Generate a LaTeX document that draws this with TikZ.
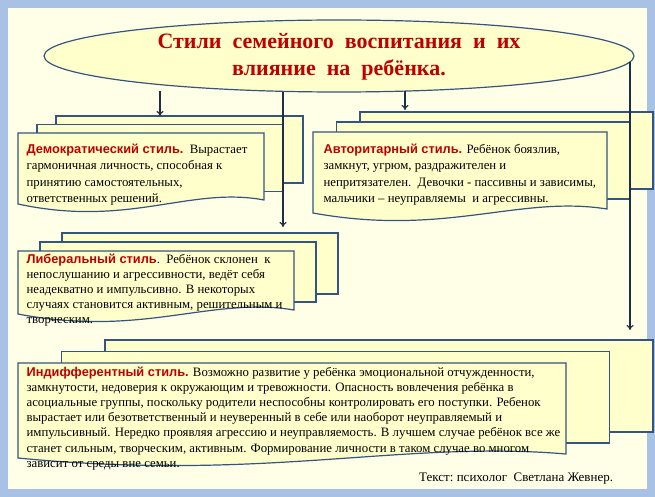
\documentclass[tikz,border=0pt]{standalone}
\usepackage{fontspec}
\setmainfont{Liberation Serif}
\newfontfamily\headfont{Liberation Sans}
\usetikzlibrary{arrows.meta,shapes.geometric}
\definecolor{frameblue}{HTML}{A8C2E6}
\definecolor{paper}{HTML}{FFFFE8}
\definecolor{boxfill}{HTML}{FFFFCC}
\definecolor{boxline}{HTML}{34557F}
\definecolor{arrowc}{HTML}{1F2D4A}
\definecolor{redhead}{HTML}{C00000}
\tikzset{every path/.style={line width=1.2pt},
  sheet/.style={draw=boxline,fill=boxfill},
  link/.style={draw=arrowc,-{To[length=5pt,width=7pt]}},
  body/.style={anchor=north west,align=left,inner sep=0pt,font=\fontsize{12.8}{15.2}\selectfont},
  widebody/.style={body,font=\fontsize{12.8}{16.5}\selectfont},
  head/.style={text=redhead,font=\headfont\bfseries}}
% stacked sheets: front box l,t,r,b, back box l,t,r,b
\newcommand\sheetstack[8]{%
  \draw[sheet] (#5,#6) rectangle (#7,#8);
  \draw[sheet] (#1/2+#5/2,#2/2+#6/2) rectangle (#3/2+#7/2,#4/2+#8/2);
  \draw[sheet] (#1,#2) -- (#3,#2) -- (#3,#4)
    .. controls (#3-0.3*#3+0.3*#1,#4-14) and (#1+0.45*#3-0.45*#1,#4+28) .. (#1,#4+4) -- cycle;}

\begin{document}
\begin{tikzpicture}[x=1pt,y=-1pt]
  \useasboundingbox (0,0) rectangle (655,497);
  \fill[frameblue] (0,0) rectangle (655,497);
  \fill[paper] (8,8) rectangle (647,489);

  \node[ellipse,draw=boxline,fill=boxfill,minimum width=590pt,minimum height=72pt,inner sep=0pt] (ell) at (339,56) {};
  \node[text=redhead,font=\fontsize{22}{27}\selectfont\bfseries,align=center] (title) at (339,57)
    {Стили\ \ семейного\ \ воспитания\ \ и\ \ их\\влияние\ \ на\ \ ребёнка.};

  % boxes
  \sheetstack{18}{133}{264}{200}{56}{116}{303}{183}
  \sheetstack{313}{132}{607}{209}{360}{112}{653}{189}
  \sheetstack{18}{251}{294}{310}{62}{233}{338}{294}
  \sheetstack{18}{363}{566}{454}{105}{340}{653}{432}

  \node[widebody] (demo) at (26,143) {\textcolor{redhead}{\headfont\bfseries Демократический стиль.}\ \ Вырастает\\
    гармоничная личность, способная к\\принятию самостоятельных,\\ответственных решений.};
  \node[widebody] (auto) at (323,143) {\textcolor{redhead}{\headfont\bfseries Авторитарный стиль.} Ребёнок боязлив,\\
    замкнут,\ угрюм,\ раздражителен и\\непритязателен.\ \ Девочки - пассивны и зависимы,\\мальчики – неуправляемы\ \ и агрессивны.};
  \node[body] (lib) at (26,253) {\textcolor{redhead}{\headfont\bfseries Либеральный стиль}.\ \ Ребёнок склонен\ \ к\\
    непослушанию и агрессивности, ведёт себя\\неадекватно и импульсивно. В некоторых\\случаях становится активным,\ решительным и\\творческим.};
  \node[body] (ind) at (26,366) {\textcolor{redhead}{\headfont\bfseries Индифферентный стиль.} Возможно развитие у ребёнка\ эмоциональной отчужденности,\\
    замкнутости,\ недоверия к окружающим и тревожности. Опасность\ вовлечения\ ребёнка\ в\\
    асоциальные группы, поскольку родители неспособны контролировать его\ поступки. Ребенок\\
    вырастает\ или\ безответственный\ и неуверенный в себе или\ наоборот неуправляемый\ и\\
    импульсивный. Нередко проявляя агрессию и неуправляемость. В лучшем случае ребёнок\ все же\\
    станет\ сильным, творческим, активным. Формирование личности в таком случае во многом\\
    зависит от среды вне семьи.};
  \node[font=\fontsize{13}{15}\selectfont,anchor=east] (src) at (617,479) {Текст:\ психолог\ \ Светлана\ Жевнер.};

  % connectors
  \coordinate (sDemo) at (160,91);  \coordinate (eDemo) at (160,116);
  \coordinate (sLib)  at (283,92);  \coordinate (eLib)  at (283,227);
  \coordinate (sAuto) at (405,91);  \coordinate (eAuto) at (405,110);
  \coordinate (sInd)  at (630,62);  \coordinate (eInd)  at (630,330);
  \draw[link] (sDemo) -- (eDemo);
  \draw[link] (sLib) -- (eLib);
  \draw[link] (sAuto) -- (eAuto);
  \draw[link] (sInd) -- (eInd);
\end{tikzpicture}
\end{document}
